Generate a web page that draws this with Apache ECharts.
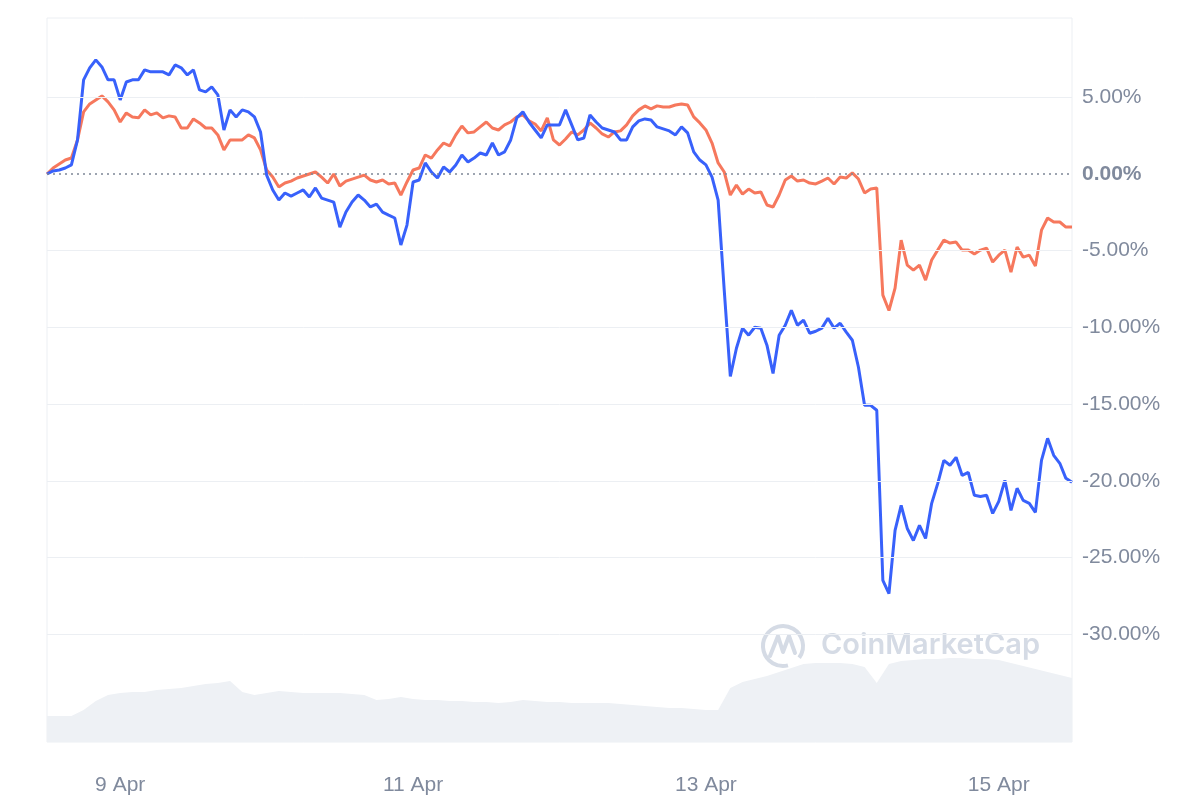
<!DOCTYPE html>
<html>
<head>
<meta charset="utf-8">
<script src="https://cdn.jsdelivr.net/npm/echarts@6/dist/echarts.min.js"></script>
<style>html,body{margin:0;padding:0;background:#fff}#c{width:1200px;height:800px}</style>
</head>
<body>
<div id="c"></div>
<script>
// Hours relative to 9 Apr 00:00, hourly samples from 8 Apr 12:00 to 15 Apr 12:00
const startHour = -12;
const stepHour = 1;
const volStepHour = 2;
const tickHours = [0, 48, 96, 144];
const tickLabels = ['9 Apr', '11 Apr', '13 Apr', '15 Apr'];
const yTicks = [5, 0, -5, -10, -15, -20, -25, -30];

// % change, blue series
const blueValues = [0.00,0.20,0.26,0.39,0.59,2.22,6.14,6.92,7.44,6.98,
6.14,6.14,4.83,6.00,6.14,6.14,6.79,6.66,6.66,6.66,
6.46,7.11,6.92,6.46,6.79,5.48,5.35,5.68,5.16,2.87,
4.18,3.72,4.18,4.05,3.72,2.74,-0.07,-1.04,-1.70,-1.24,
-1.44,-1.24,-1.04,-1.50,-0.91,-1.57,-1.70,-1.83,-3.46,-2.48,
-1.83,-1.37,-1.70,-2.15,-1.96,-2.48,-2.68,-2.87,-4.63,-3.33,
-0.52,-0.39,0.72,0.13,-0.26,0.46,0.13,0.59,1.24,0.78,
1.04,1.37,1.24,2.02,1.24,1.44,2.22,3.66,4.05,3.39,
2.87,2.35,3.20,3.20,3.20,4.18,3.20,2.22,2.35,3.85,
3.39,3.00,2.87,2.74,2.22,2.22,3.07,3.46,3.59,3.52,
3.07,2.94,2.81,2.55,3.07,2.68,1.44,0.91,0.59,-0.20,
-1.70,-7.57,-13.20,-11.36,-10.05,-10.51,-9.99,-10.05,-11.16,-13.00,
-10.51,-9.86,-8.88,-9.86,-9.53,-10.38,-10.25,-10.05,-9.40,-10.05,
-9.73,-10.31,-10.84,-12.60,-15.08,-15.08,-15.40,-26.50,-27.35,-23.24,
-21.60,-23.11,-23.89,-22.91,-23.76,-21.47,-20.17,-18.67,-18.99,-18.47,
-19.65,-19.45,-20.95,-21.02,-20.95,-22.13,-21.34,-19.97,-21.93,-20.49,
-21.28,-21.47,-22.06,-18.67,-17.23,-18.34,-18.86,-19.84,-20.10];

// % change, orange series
const orangeValues = [0.00,0.39,0.65,0.91,1.04,2.22,4.05,4.57,4.83,5.09,
4.70,4.18,3.39,3.98,3.72,3.66,4.18,3.85,3.98,3.66,
3.79,3.72,3.00,3.00,3.59,3.33,3.00,3.00,2.55,1.57,
2.22,2.22,2.22,2.55,2.35,1.57,0.26,-0.20,-0.85,-0.59,
-0.46,-0.26,-0.13,0.00,0.13,-0.20,-0.59,0.00,-0.78,-0.46,
-0.33,-0.20,-0.07,-0.39,-0.52,-0.39,-0.65,-0.59,-1.37,-0.52,
0.26,0.39,1.24,1.04,1.57,2.02,1.83,2.55,3.13,2.68,
2.74,3.07,3.39,3.00,2.87,3.20,3.39,3.72,3.85,3.46,
3.26,2.81,3.66,2.22,1.89,2.28,2.74,2.55,2.87,3.33,
3.00,2.61,2.41,2.74,2.81,3.20,3.79,4.18,4.44,4.24,
4.44,4.37,4.37,4.50,4.57,4.50,3.72,3.33,2.87,2.02,
0.72,0.13,-1.37,-0.72,-1.31,-0.98,-1.24,-1.17,-2.02,-2.15,
-1.37,-0.39,-0.13,-0.46,-0.39,-0.59,-0.65,-0.46,-0.26,-0.65,
-0.20,-0.26,0.07,-0.33,-1.24,-0.98,-0.91,-7.90,-8.90,-7.44,
-4.31,-5.94,-6.27,-5.94,-6.92,-5.61,-4.96,-4.31,-4.50,-4.44,
-4.96,-4.96,-5.22,-4.96,-4.83,-5.74,-5.29,-4.96,-6.40,-4.76,
-5.42,-5.29,-6.00,-3.66,-2.87,-3.13,-3.13,-3.46,-3.46];

// relative volume, 2-hourly
const volumeValues = [26,26,26,32,41,47,49,50,50,52,
53,54,56,58,59,61,50,47,49,51,
50,49,49,49,49,48,47,42,43,45,
43,42,42,41,41,40,40,39,40,42,
41,40,40,39,39,39,39,38,37,36,
35,34,34,33,32,32,54,60,63,66,
70,74,78,79,79,79,78,75,59,78,
81,82,83,83,84,84,83,83,82,79,
76,73,70,67,64];

const pair = (vals, step) => vals.map((v, i) => [startHour + i * step, v]);

const FONT = '"Liberation Sans", Arial, sans-serif';
const WM_FONT = 'Inter, "Noto Sans", sans-serif';
const GREY = '#808a9d';
const chart = echarts.init(document.getElementById('c'), null, {renderer: 'canvas'});

const gridMark = yTicks.map(v => v === 0
  ? {yAxis: v, lineStyle: {type: [2, 4], color: '#7e8696', width: 1.5}, label: {fontWeight: 'bold'}}
  : {yAxis: v});

chart.setOption({
  animation: false,
  backgroundColor: '#ffffff',
  grid: [
    {left: 47, right: 128, top: 18, bottom: 58, show: true, borderColor: '#eceff3', borderWidth: 1, backgroundColor: 'transparent'},
    {left: 47, right: 128, top: 642, bottom: 58, show: false}
  ],
  xAxis: [
    {type: 'value', gridIndex: 0, min: -12, max: 156, interval: 12,
     axisLine: {show: false}, axisTick: {show: false}, splitLine: {show: false},
     axisLabel: {margin: 33, color: GREY, fontSize: 21, fontFamily: FONT,
       formatter: v => { const i = tickHours.indexOf(v); return i >= 0 ? tickLabels[i] : ''; }}},
    {type: 'value', gridIndex: 1, min: -12, max: 156, show: false}
  ],
  yAxis: [
    {type: 'value', gridIndex: 0, position: 'right', min: -37.03, max: 10.17,
     axisLine: {show: false}, axisTick: {show: false}, splitLine: {show: false}, axisLabel: {show: false}},
    {type: 'value', gridIndex: 1, min: 0, max: 100, show: false}
  ],
  graphic: [
    {type: 'arc', z: 0, shape: {cx: 783, cy: 646, r: 20, startAngle: Math.PI * 0.42, endAngle: Math.PI * 2.2},
     style: {stroke: '#d5dbe5', lineWidth: 4, fill: 'none'}},
    {type: 'polyline', z: 0, shape: {points: [[770, 656], [778, 636], [783, 652], [789, 636], [795, 653]]},
     style: {stroke: '#d5dbe5', lineWidth: 4, fill: 'none', lineJoin: 'round', lineCap: 'round'}},
    {type: 'text', z: 0, left: 821, top: 631,
     style: {text: 'CoinMarketCap', fill: '#d5dbe5', font: '600 29px ' + WM_FONT}}
  ],
  series: [
    {type: 'line', name: 'volume', xAxisIndex: 1, yAxisIndex: 1, z: 0, data: pair(volumeValues, volStepHour),
     showSymbol: false, lineStyle: {width: 0}, areaStyle: {color: '#eef1f5', opacity: 1}, silent: true},
    {type: 'line', name: 'grid', xAxisIndex: 0, yAxisIndex: 0, z: 1, data: [], silent: true,
     markLine: {silent: true, symbol: 'none', animation: false,
       lineStyle: {type: 'solid', color: '#eceff3', width: 1},
       label: {position: 'end', distance: 10, color: GREY, fontSize: 21, fontFamily: FONT,
         formatter: p => p.value.toFixed(2) + '%'},
       data: gridMark}},
    {type: 'line', name: 'orange', xAxisIndex: 0, yAxisIndex: 0, z: 3, data: pair(orangeValues, stepHour),
     showSymbol: false, lineStyle: {width: 3, color: '#f6785d'}},
    {type: 'line', name: 'blue', xAxisIndex: 0, yAxisIndex: 0, z: 4, data: pair(blueValues, stepHour),
     showSymbol: false, lineStyle: {width: 3, color: '#3861fb'}}
  ]
});
</script>
</body>
</html>
